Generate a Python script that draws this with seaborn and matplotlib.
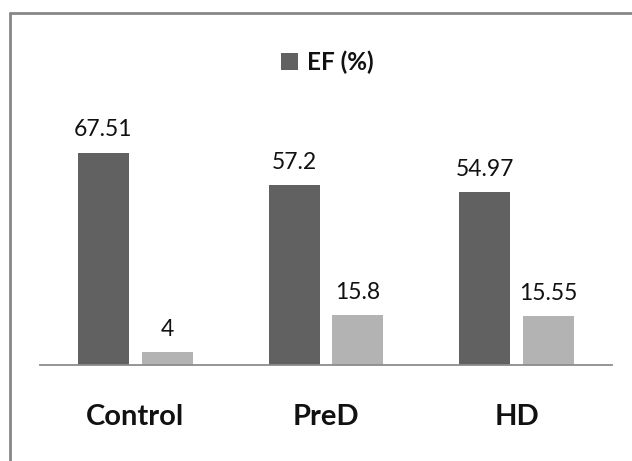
import matplotlib
matplotlib.use('Agg')
import matplotlib.pyplot as plt
import pandas as pd
import seaborn as sns
from matplotlib.lines import Line2D
from matplotlib.patches import Patch

# data
groups = ['Control', 'PreD', 'HD']
series_names = ['EF (%)', 'Series 2']
ef_values = [67.51, 57.2, 54.97]
second_values = [4, 15.8, 15.55]
bar_colors = ['#616161', '#b3b3b3']

df = pd.DataFrame({
    'group': groups * 2,
    'series': [series_names[0]] * 3 + [series_names[1]] * 3,
    'value': ef_values + second_values,
})

sns.set_style('white')
plt.rcParams['font.family'] = ['Lato', 'DejaVu Sans']

W, H = 632, 461
fig = plt.figure(figsize=(W / 100, H / 100), dpi=100)
# axes placed in pixel terms: x 40..612, y 90..365
ax = fig.add_axes([40 / W, (H - 365) / H, 572 / W, 275 / H])

sns.barplot(data=df, x='group', y='value', hue='series', order=groups,
            hue_order=series_names, palette=bar_colors, width=0.67, gap=0.2,
            saturation=1, legend=False, ax=ax, linewidth=0)

for cont in ax.containers:
    ax.bar_label(cont, labels=[f'{v:g}' for v in cont.datavalues],
                 padding=9, fontsize=16.5, color='#111111')

ax.set_ylim(0, 87.4)
ax.set_xlim(-0.5, 2.5)
ax.set_xlabel('')
ax.set_ylabel('')
ax.set_yticks([])
ax.tick_params(axis='x', length=0, pad=28)
for lab in ax.get_xticklabels():
    lab.set_fontweight('bold')
    lab.set_fontsize(21)
    lab.set_color('#111111')
for s in ['top', 'right', 'left']:
    ax.spines[s].set_visible(False)
ax.spines['bottom'].set_color('#8c8c8c')
ax.spines['bottom'].set_linewidth(1.3)

# legend shows only the first series, centred above the plot
handle = Patch(facecolor=bar_colors[0], edgecolor='none')
leg = fig.legend([handle], [series_names[0]], loc='center',
                 bbox_to_anchor=(327 / W, 1 - 62 / H), frameon=False,
                 fontsize=17.5, handlelength=0.72,
                 handleheight=0.72, handletextpad=0.35)
for t in leg.get_texts():
    t.set_fontweight('bold')
    t.set_color('#111111')

# chart-area border (cropped on right and bottom)
fig.add_artist(Line2D([10.5 / W, 1], [1 - 13.5 / H, 1 - 13.5 / H],
                      color='#878787', lw=2, transform=fig.transFigure))
fig.add_artist(Line2D([10.5 / W, 10.5 / W], [0, 1 - 13.5 / H],
                      color='#878787', lw=2, transform=fig.transFigure))

fig.savefig('out.png', dpi=100, facecolor='white')
